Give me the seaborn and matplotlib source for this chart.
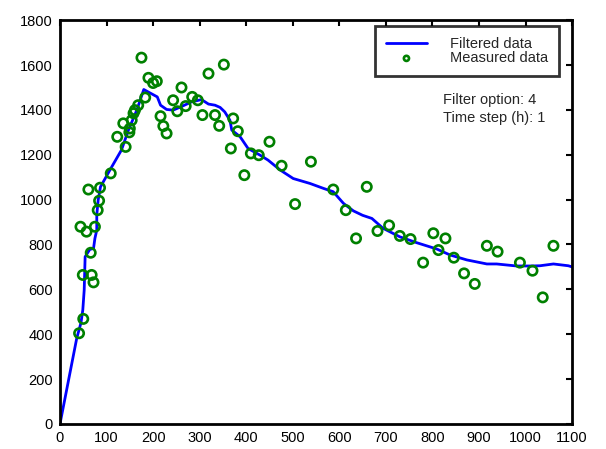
import matplotlib
matplotlib.use("Agg")
import matplotlib.pyplot as plt
import seaborn as sns
import pandas as pd

# Filtered curve
filt_x = [0, 36, 45, 49, 52, 54, 64, 72, 75, 79, 79, 82, 87, 107, 132, 147, 165, 180,
          193, 209, 216, 229, 243, 261, 283, 304, 319, 333, 344, 354, 365, 369, 387,
          404, 430, 447, 473, 501, 537, 566, 587, 609, 630, 650, 670, 694, 730, 766,
          809, 838, 874, 917, 938, 981, 1010, 1031, 1060, 1092, 1100]
filt_y = [0, 382, 450, 508, 597, 745, 778, 782, 827, 864, 931, 998, 1057, 1131, 1221,
          1310, 1399, 1491, 1476, 1458, 1421, 1402, 1399, 1415, 1436, 1446, 1426, 1421,
          1411, 1391, 1354, 1310, 1280, 1228, 1198, 1176, 1132, 1094, 1072, 1050, 1035,
          983, 950, 930, 916, 872, 834, 808, 780, 753, 731, 713, 713, 704, 704, 705, 713,
          705, 700]

# Measured points
meas_x = [41, 50, 49, 68, 72, 66, 44, 57, 75, 81, 84, 86, 61, 109, 141, 123, 136, 150,
          154, 161, 168, 183, 175, 190, 208, 200, 216, 222, 229, 243, 252, 261, 270,
          284, 296, 306, 319, 352, 333, 342, 372, 367, 382, 450, 410, 427, 396, 476,
          539, 587, 659, 505, 614, 636, 682, 707, 730, 753, 780, 802, 828, 813, 846,
          868, 891, 917, 940, 988, 1015, 1037, 1060, 149, 158]
meas_y = [404, 468, 664, 664, 631, 763, 879, 857, 879, 953, 995, 1053, 1045, 1117, 1235,
          1280, 1340, 1317, 1354, 1399, 1421, 1455, 1633, 1543, 1528, 1520, 1372, 1328,
          1295, 1443, 1394, 1500, 1417, 1458, 1443, 1377, 1562, 1602, 1377, 1329, 1362,
          1228, 1305, 1258, 1206, 1198, 1109, 1151, 1169, 1045, 1057, 980, 953, 827, 860,
          885, 838, 824, 719, 850, 827, 775, 741, 671, 624, 794, 768, 719, 683, 564, 794,
          1300, 1385]

filt = pd.DataFrame({"x": filt_x, "y": filt_y})
meas = pd.DataFrame({"x": meas_x, "y": meas_y})

sns.set_style("white")
plt.rcParams["font.family"] = ["Liberation Sans", "DejaVu Sans"]

fig = plt.figure(figsize=(6.06, 4.49), dpi=100)
ax = fig.add_axes([0.099, 0.056, 0.845, 0.899])

sns.lineplot(data=filt, x="x", y="y", ax=ax, color="#0000ff", linewidth=2,
             sort=False, estimator=None, label="Filtered data")
sns.scatterplot(data=meas, x="x", y="y", ax=ax, marker="o", s=45,
                facecolors="none", edgecolor="#008000", linewidth=1.9,
                label="Measured data", zorder=3)

ax.set_xlim(0, 1100)
ax.set_ylim(0, 1800)
ax.set_xticks(range(0, 1101, 100))
ax.set_yticks(range(0, 1801, 200))
ax.set_xlabel("")
ax.set_ylabel("")
ax.tick_params(direction="in", length=4, width=1.5, top=True, right=True,
               labelsize=10.5, colors="black", pad=5)
for sp in ax.spines.values():
    sp.set_linewidth(2)
    sp.set_color("black")

leg = ax.legend(loc="upper right", bbox_to_anchor=(0.975, 0.985), fontsize=10.5,
                frameon=True, fancybox=False, edgecolor="black", handlelength=2.8,
                handletextpad=1.6, markerscale=0.55, labelspacing=0.0,
                borderpad=0.75, borderaxespad=0.0)
leg.get_frame().set_linewidth(2)

ax.text(823, 1445, "Filter option: 4", fontsize=10.5, va="center")
ax.text(823, 1365, "Time step (h): 1", fontsize=10.5, va="center")

fig.savefig("out.png", dpi=100)
